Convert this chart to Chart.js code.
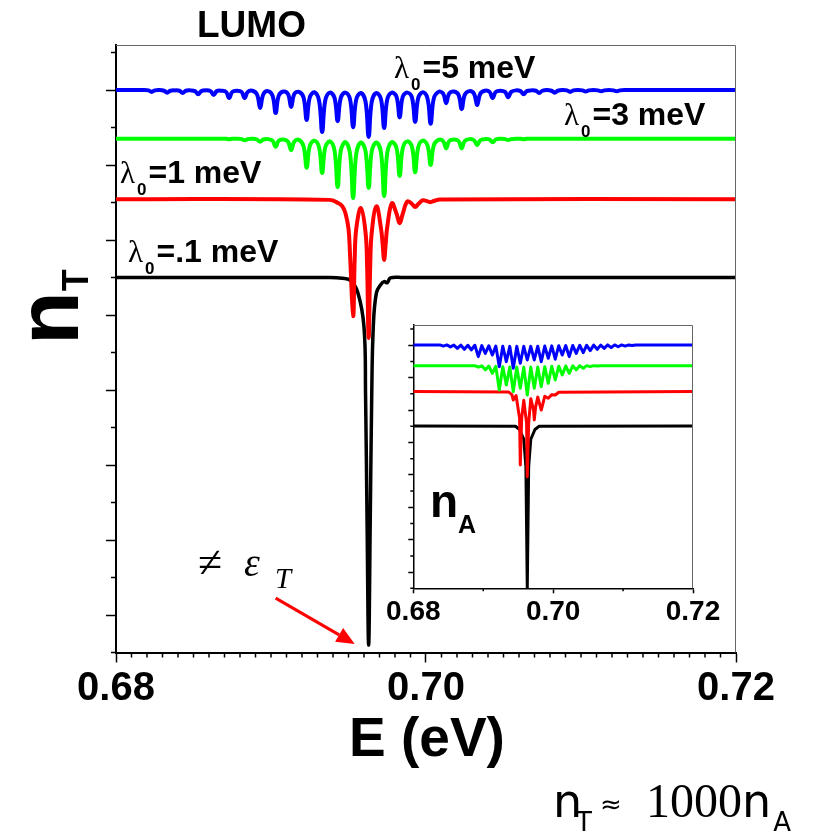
<!DOCTYPE html>
<html>
<head>
<meta charset="utf-8">
<title>LUMO n_T</title>
<script src="https://cdn.jsdelivr.net/npm/chart.js@4.4.1/dist/chart.umd.min.js"></script>
<style>
  html, body { margin: 0; padding: 0; background: #fff; }
  #wrap { position: relative; width: 817px; height: 832px; }
  #mainChart { position: absolute; left: 0; top: 0; }
  #insetChart { position: absolute; left: 360px; top: 310px; }
</style>
</head>
<body>
<div id="wrap">
  <canvas id="mainChart" width="817" height="832"></canvas>
  <canvas id="insetChart" width="380" height="330"></canvas>
</div>
<script>
var SANS = '"Liberation Sans", Arial, sans-serif';
var SERIF = '"Liberation Serif", "Times New Roman", serif';
var DEJAVU = '"DejaVu Sans", Verdana, sans-serif';

// axis ticks
var xTicks = [0.68, 0.70, 0.72];
var yMajorTicks = [1, 3, 5, 7, 9, 11, 13, 15];
var yMinorTicks = [0, 2, 4, 6, 8, 10, 12, 14, 16];

// ---- main panel, n_T ----
// shared energy grid for the 5 meV and 3 meV curves: per line one dip (arch, shoulder, bottom, shoulder)
var gridE = [
  0.6800,
  0.6818, 0.6821, 0.6823, 0.6825,
  0.6828, 0.6831, 0.6833, 0.6835,
  0.6838, 0.6841, 0.6843, 0.6845,
  0.6848, 0.6851, 0.6853, 0.6855,
  0.6858, 0.6861, 0.6863, 0.6865,
  0.6868, 0.6871, 0.6873, 0.6875,
  0.6878, 0.6881, 0.6883, 0.6885,
  0.6888, 0.6891, 0.6893, 0.6895,
  0.6898, 0.6901, 0.6903, 0.6905,
  0.6908, 0.6911, 0.6913, 0.6915,
  0.6918, 0.6921, 0.6923, 0.6925,
  0.6928, 0.6931, 0.6933, 0.6935,
  0.6938, 0.6941, 0.6943, 0.6945,
  0.6948, 0.6951, 0.6953, 0.6955,
  0.6958, 0.6961, 0.6963, 0.6965,
  0.6968, 0.6971, 0.6973, 0.6975,
  0.6978, 0.6981, 0.6983, 0.6985,
  0.6988, 0.6991, 0.6993, 0.6995,
  0.6998, 0.7001, 0.7003, 0.7005,
  0.7008, 0.7011, 0.7013, 0.7015,
  0.7018, 0.7021, 0.7023, 0.7025,
  0.7028, 0.7031, 0.7033, 0.7035,
  0.7038, 0.7041, 0.7043, 0.7045,
  0.7048, 0.7051, 0.7053, 0.7055,
  0.7058, 0.7061, 0.7063, 0.7065,
  0.7068, 0.7071, 0.7073, 0.7075,
  0.7078, 0.7081, 0.7083, 0.7085,
  0.7088, 0.7091, 0.7093, 0.7095,
  0.7098, 0.7101, 0.7103, 0.7105,
  0.7108, 0.7111, 0.7113, 0.7115,
  0.7118, 0.7121, 0.7123, 0.7125,
  0.7128, 0.7200
];

var n5 = [
  15.00,
  15.00, 14.99, 14.95, 14.99,
  15.00, 14.98, 14.93, 14.98,
  14.99, 14.98, 14.92, 14.98,
  14.99, 14.97, 14.89, 14.97,
  14.99, 14.97, 14.87, 14.97,
  14.98, 14.95, 14.79, 14.95,
  14.98, 14.95, 14.79, 14.95,
  14.98, 14.88, 14.52, 14.88,
  14.97, 14.85, 14.39, 14.85,
  14.96, 14.89, 14.55, 14.89,
  14.95, 14.80, 14.20, 14.80,
  14.94, 14.72, 13.88, 14.72,
  14.93, 14.79, 14.17, 14.79,
  14.93, 14.75, 14.01, 14.75,
  14.92, 14.69, 13.75, 14.69,
  14.92, 14.75, 13.99, 14.75,
  14.93, 14.82, 14.27, 14.82,
  14.93, 14.79, 14.15, 14.79,
  14.94, 14.77, 14.10, 14.77,
  14.95, 14.91, 14.65, 14.91,
  14.96, 14.87, 14.49, 14.87,
  14.97, 14.90, 14.60, 14.90,
  14.98, 14.95, 14.79, 14.95,
  14.98, 14.95, 14.81, 14.95,
  14.99, 14.97, 14.89, 14.97,
  14.99, 14.98, 14.92, 14.98,
  15.00, 14.98, 14.93, 14.98,
  15.00, 14.99, 14.95, 14.99,
  15.00, 14.99, 14.96, 14.99,
  15.00, 14.99, 14.97, 14.99,
  15.00, 14.99, 14.97, 14.99,
  15.00, 15.00
];

var n3 = [
  13.70,
  13.70, 13.70, 13.70, 13.70,
  13.70, 13.70, 13.70, 13.70,
  13.70, 13.70, 13.70, 13.70,
  13.70, 13.70, 13.70, 13.70,
  13.70, 13.70, 13.70, 13.70,
  13.70, 13.70, 13.69, 13.70,
  13.70, 13.69, 13.66, 13.69,
  13.70, 13.68, 13.62, 13.68,
  13.69, 13.65, 13.49, 13.65,
  13.68, 13.62, 13.40, 13.62,
  13.67, 13.50, 12.93, 13.50,
  13.65, 13.47, 12.79, 13.47,
  13.63, 13.38, 12.41, 13.38,
  13.61, 13.30, 12.12, 13.30,
  13.60, 13.37, 12.39, 13.37,
  13.60, 13.32, 12.17, 13.32,
  13.61, 13.45, 12.71, 13.45,
  13.63, 13.48, 12.81, 13.48,
  13.65, 13.52, 13.00, 13.52,
  13.67, 13.64, 13.45, 13.64,
  13.68, 13.64, 13.45, 13.64,
  13.69, 13.66, 13.53, 13.66,
  13.69, 13.68, 13.61, 13.68,
  13.70, 13.69, 13.67, 13.69,
  13.70, 13.70, 13.69, 13.70,
  13.70, 13.70, 13.70, 13.70,
  13.70, 13.70, 13.70, 13.70,
  13.70, 13.70, 13.70, 13.70,
  13.70, 13.70, 13.70, 13.70,
  13.70, 13.70, 13.70, 13.70,
  13.70, 13.70, 13.70, 13.70,
  13.70, 13.70
];

var e1 = [0.6800, 0.6938, 0.6943, 0.6946, 0.6948, 0.6950, 0.6951, 0.6953, 0.6954, 0.6955,
          0.6958, 0.6961, 0.6962, 0.6963, 0.6964, 0.6965, 0.6968, 0.6971, 0.6972, 0.6973,
          0.6974, 0.6975, 0.6978, 0.6981, 0.6983, 0.6985, 0.6988, 0.6991, 0.6993, 0.6995,
          0.6998, 0.7001, 0.7003, 0.7005, 0.7009, 0.7200];
var n1 = [12.09, 12.07, 11.99, 11.90, 11.72, 11.30, 10.60, 8.97, 10.50, 11.30,
          11.85, 11.20, 10.30, 8.39, 10.30, 11.20, 11.90, 11.30, 10.90, 10.47,
          10.90, 11.35, 11.98, 11.70, 11.45, 11.70, 12.03, 11.96, 11.88, 11.96,
          12.06, 12.03, 12.01, 12.04, 12.08, 12.09];

var e01 = [0.6800, 0.6938, 0.6946, 0.6951, 0.6956, 0.6960, 0.6961, 0.6962, 0.6963, 0.6964,
           0.6965, 0.6966, 0.6968, 0.6971, 0.6973, 0.6975, 0.6977, 0.6985, 0.7200];
var n01 = [10.00, 10.00, 9.98, 9.93, 9.60, 8.68, 6.90, 3.40, 0.20, 3.40,
           6.90, 8.69, 9.59, 9.82, 9.89, 9.86, 9.99, 10.00, 10.00];

// ---- inset, n_A ----
// per line one dip (arch, bottom)
var insetE = [
  0.6800,
  0.6838, 0.6843,
  0.6848, 0.6853,
  0.6858, 0.6863,
  0.6868, 0.6873,
  0.6878, 0.6883,
  0.6888, 0.6893,
  0.6898, 0.6903,
  0.6908, 0.6913,
  0.6918, 0.6923,
  0.6928, 0.6933,
  0.6938, 0.6943,
  0.6948, 0.6953,
  0.6958, 0.6963,
  0.6968, 0.6973,
  0.6978, 0.6983,
  0.6988, 0.6993,
  0.6998, 0.7003,
  0.7008, 0.7013,
  0.7018, 0.7023,
  0.7028, 0.7033,
  0.7038, 0.7043,
  0.7048, 0.7053,
  0.7058, 0.7063,
  0.7068, 0.7073,
  0.7078, 0.7083,
  0.7088, 0.7093,
  0.7098, 0.7103,
  0.7108, 0.7113,
  0.7118, 0.7200
];
var insetN5 = [
  15.02,
  15.02, 14.95,
  15.02, 14.90,
  15.01, 14.81,
  15.01, 14.75,
  15.00, 14.71,
  15.00, 14.30,
  14.98, 14.50,
  14.97, 14.40,
  14.95, 13.68,
  14.94, 13.99,
  14.93, 13.58,
  14.93, 13.89,
  14.93, 14.09,
  14.93, 14.09,
  14.94, 13.99,
  14.95, 14.20,
  14.96, 14.14,
  14.97, 14.40,
  14.98, 14.30,
  14.99, 14.50,
  15.00, 14.54,
  15.00, 14.67,
  15.01, 14.75,
  15.01, 14.81,
  15.02, 14.85,
  15.02, 14.91,
  15.02, 14.95,
  15.02, 14.98,
  15.02, 15.02
];
var insetN3 = [
  13.74,
  13.74, 13.74,
  13.74, 13.74,
  13.74, 13.74,
  13.74, 13.74,
  13.74, 13.74,
  13.74, 13.65,
  13.73, 13.48,
  13.72, 13.27,
  13.70, 12.24,
  13.68, 12.55,
  13.66, 12.14,
  13.65, 12.35,
  13.65, 11.93,
  13.65, 12.35,
  13.66, 12.44,
  13.68, 12.65,
  13.70, 12.86,
  13.71, 13.17,
  13.72, 13.27,
  13.73, 13.48,
  13.74, 13.58,
  13.74, 13.68,
  13.74, 13.72,
  13.74, 13.74,
  13.74, 13.74,
  13.74, 13.74,
  13.74, 13.74,
  13.74, 13.74,
  13.74, 13.74
];
var insetE1 = [0.6800, 0.6936, 0.6941, 0.6943, 0.6947, 0.6952, 0.6953, 0.6955, 0.6958, 0.6962,
               0.6963, 0.6965, 0.6968, 0.6972, 0.6973, 0.6975, 0.6978, 0.6983, 0.6988, 0.6993,
               0.6998, 0.7003, 0.7008, 0.7200];
var insetN1 = [12.14, 12.12, 11.95, 11.62, 11.90, 10.50, 7.61, 10.50, 11.60, 10.20,
               6.89, 10.20, 11.70, 11.00, 10.39, 11.20, 11.80, 11.00, 11.85, 11.73,
               11.95, 11.93, 12.10, 12.14];
var insetE01 = [0.6800, 0.6946, 0.6952, 0.6958, 0.6961, 0.6963, 0.6965, 0.6968, 0.6974, 0.6980, 0.7200];
var insetN01 = [10.02, 10.00, 9.80, 9.20, 7.50, 0.00, 7.50, 9.20, 9.80, 10.00, 10.02];

// arrow pointing at the dip, in data units (E, n)
var arrowFrom = [0.6903, 1.45];
var arrowTo = [0.6954, 0.23];

function pts(xs, ys) {
  return xs.map(function (x, i) { return { x: x, y: ys[i] }; });
}

function put(ctx, s, x, y, font) {
  ctx.font = font;
  ctx.fillText(s, x, y);
  return x + ctx.measureText(s).width;
}

function frameAndMinors(chart, xMinor, yMinor, minorLen) {
  var ctx = chart.ctx, a = chart.chartArea;
  var xs = chart.scales.x, ys = chart.scales.y;
  ctx.strokeStyle = '#666';
  ctx.lineWidth = 1;
  ctx.beginPath();
  ctx.moveTo(a.left, a.top + 0.5);
  ctx.lineTo(a.right - 0.5, a.top + 0.5);
  ctx.lineTo(a.right - 0.5, a.bottom);
  ctx.stroke();

  ctx.strokeStyle = '#000';
  ctx.lineWidth = 1.5;
  ctx.beginPath();
  xMinor.forEach(function (v) {
    var px = xs.getPixelForValue(v);
    ctx.moveTo(px, a.bottom);
    ctx.lineTo(px, a.bottom + minorLen);
  });
  yMinor.forEach(function (v) {
    var py = ys.getPixelForValue(v);
    ctx.moveTo(a.left, py);
    ctx.lineTo(a.left - minorLen, py);
  });
  ctx.stroke();
}

var mainMinorX = [];
for (var i = 1; i < 40; i++) {
  if (i !== 20) mainMinorX.push(0.68 + i * 0.001);
}

var mainDecor = {
  id: 'mainDecor',
  afterDraw: function (chart) {
    var ctx = chart.ctx;
    var xs = chart.scales.x, ys = chart.scales.y;
    ctx.save();
    frameAndMinors(chart, mainMinorX, yMinorTicks, 5);

    ctx.fillStyle = '#000';
    ctx.textAlign = 'left';
    ctx.textBaseline = 'alphabetic';

    put(ctx, 'LUMO', 197, 37, 'bold 37px ' + SANS);

    // curve labels
    var lam = [
      [394, 78, '=5 meV'],
      [564, 125, '=3 meV'],
      [120, 183, '=1 meV'],
      [128, 262, '=.1 meV']
    ];
    lam.forEach(function (l) {
      var x = put(ctx, 'λ', l[0], l[1], '31px ' + SERIF);
      x = put(ctx, '0', x + 2, l[1] + 12, 'bold 17px ' + SANS);
      put(ctx, l[2], x + 2, l[1], 'bold 32px ' + SANS);
    });

    // ≠ ε_T
    put(ctx, '≠', 198, 577, '44px ' + SERIF);
    put(ctx, 'ε', 244, 576, 'italic 40px ' + SERIF);
    put(ctx, 'T', 275, 588, 'italic 29px ' + SERIF);

    // red arrow
    var x0 = xs.getPixelForValue(arrowFrom[0]), y0 = ys.getPixelForValue(arrowFrom[1]);
    var x1 = xs.getPixelForValue(arrowTo[0]), y1 = ys.getPixelForValue(arrowTo[1]);
    var ang = Math.atan2(y1 - y0, x1 - x0), hl = 18, hw = 8;
    var bx = x1 - hl * Math.cos(ang), by = y1 - hl * Math.sin(ang);
    ctx.strokeStyle = '#ff0000';
    ctx.fillStyle = '#ff0000';
    ctx.lineWidth = 3;
    ctx.beginPath();
    ctx.moveTo(x0, y0);
    ctx.lineTo(bx, by);
    ctx.stroke();
    ctx.beginPath();
    ctx.moveTo(x1, y1);
    ctx.lineTo(bx + hw * Math.sin(ang), by - hw * Math.cos(ang));
    ctx.lineTo(bx - hw * Math.sin(ang), by + hw * Math.cos(ang));
    ctx.closePath();
    ctx.fill();

    // axis titles
    ctx.fillStyle = '#000';
    ctx.textAlign = 'center';
    put(ctx, 'E (eV)', 427, 756, 'bold 55px ' + SANS);
    ctx.textAlign = 'left';

    ctx.save();
    ctx.translate(78, 345);
    ctx.rotate(-Math.PI / 2);
    var tx = put(ctx, 'n', 0, 0, 'bold 88px ' + SANS);
    put(ctx, 'T', tx, 10, 'bold 36px ' + SANS);
    ctx.restore();

    // n_T ≈ 1000 n_A
    put(ctx, 'n', 553, 817, '46px ' + DEJAVU);
    put(ctx, 'T', 576, 831, '26px ' + DEJAVU);
    put(ctx, '≈', 600, 813, '26px ' + DEJAVU);
    var bx3 = put(ctx, '1000', 646, 817, '48px ' + SERIF);
    bx3 = put(ctx, 'n', bx3, 817, '46px ' + DEJAVU);
    put(ctx, 'A', bx3 + 2, 831, '26px ' + DEJAVU);
    ctx.restore();
  }
};

var insetDecor = {
  id: 'insetDecor',
  afterDraw: function (chart) {
    var ctx = chart.ctx;
    ctx.save();
    frameAndMinors(chart, [0.69, 0.71], yMinorTicks, 3);
    ctx.fillStyle = '#000';
    ctx.textAlign = 'left';
    var x = put(ctx, 'n', 70, 207, 'bold 46px ' + SANS);
    put(ctx, 'A', x, 223, 'bold 25px ' + SANS);
    ctx.restore();
  }
};

function lineSet(label, data, color, width, tension) {
  return {
    label: label,
    data: data,
    borderColor: color,
    borderWidth: width,
    pointRadius: 0,
    fill: false,
    tension: tension,
    borderJoinStyle: 'round'
  };
}

function axes(opt) {
  return {
    x: {
      type: 'linear',
      min: 0.68,
      max: 0.72,
      afterBuildTicks: function (s) { s.ticks = xTicks.map(function (v) { return { value: v }; }); },
      afterFit: function (s) { s.height = opt.xHeight; },
      ticks: {
        callback: function (v) { return Number(v).toFixed(2); },
        font: { family: SANS, size: opt.tickFont, weight: 'bold' },
        color: '#000',
        padding: opt.tickPad,
        maxRotation: 0,
        autoSkip: false
      },
      grid: { drawOnChartArea: false, drawTicks: true, tickLength: opt.tickLen, tickColor: '#000', tickWidth: 1.5 },
      border: { display: true, color: '#000', width: opt.axisWidth }
    },
    y: {
      type: 'linear',
      min: 0,
      max: opt.yMax,
      afterBuildTicks: function (s) { s.ticks = yMajorTicks.map(function (v) { return { value: v }; }); },
      afterFit: function (s) { s.width = opt.yWidth; },
      ticks: { display: false },
      grid: { drawOnChartArea: false, drawTicks: true, tickLength: opt.tickLen, tickColor: '#000', tickWidth: 1.5 },
      border: { display: true, color: '#000', width: opt.axisWidth }
    }
  };
}

new Chart(document.getElementById('mainChart'), {
  type: 'line',
  data: {
    datasets: [
      lineSet('λ0=5 meV', pts(gridE, n5), '#0000ff', 4, 0.4),
      lineSet('λ0=3 meV', pts(gridE, n3), '#00ff00', 4, 0.4),
      lineSet('λ0=1 meV', pts(e1, n1), '#ff0000', 4, 0.4),
      lineSet('λ0=.1 meV', pts(e01, n01), '#000000', 3.5, 0.4)
    ]
  },
  options: {
    responsive: false,
    maintainAspectRatio: false,
    animation: false,
    layout: { padding: { top: 45, right: 81, left: 0, bottom: 0 } },
    plugins: { legend: { display: false }, tooltip: { enabled: false } },
    scales: axes({ xHeight: 179.5, yWidth: 116, tickFont: 40, tickPad: 2, tickLen: 10, axisWidth: 2, yMax: 16.2 })
  },
  plugins: [mainDecor]
});

new Chart(document.getElementById('insetChart'), {
  type: 'line',
  data: {
    datasets: [
      lineSet('λ0=5 meV', pts(insetE, insetN5), '#0000ff', 3, 0),
      lineSet('λ0=3 meV', pts(insetE, insetN3), '#00ff00', 3, 0),
      lineSet('λ0=1 meV', pts(insetE1, insetN1), '#ff0000', 3, 0),
      lineSet('λ0=.1 meV', pts(insetE01, insetN01), '#000000', 3, 0)
    ]
  },
  options: {
    responsive: false,
    maintainAspectRatio: false,
    animation: false,
    layout: { padding: { top: 15, right: 47, left: 0, bottom: 0 } },
    plugins: { legend: { display: false }, tooltip: { enabled: false } },
    scales: axes({ xHeight: 51.7, yWidth: 53.3, tickFont: 28, tickPad: 2, tickLen: 5, axisWidth: 1.5, yMax: 16.25 })
  },
  plugins: [insetDecor]
});
</script>
</body>
</html>
